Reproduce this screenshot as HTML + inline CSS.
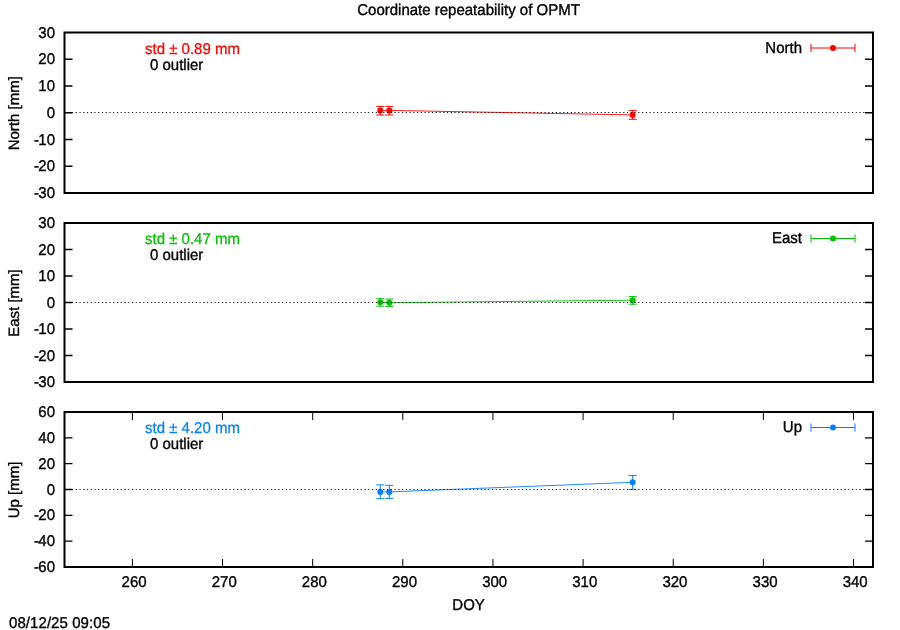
<!DOCTYPE html>
<html><head><meta charset="utf-8"><title>Coordinate repeatability of OPMT</title>
<style>
html,body{margin:0;padding:0;background:#fff;}
body{width:900px;height:630px;overflow:hidden;}
svg{display:block;will-change:transform;}
text{font-family:"Liberation Sans",sans-serif;font-size:15px;text-rendering:geometricPrecision;}
</style></head><body>
<svg width="900" height="630" viewBox="0 0 900 630">
<rect width="900" height="630" fill="#fff"/>
<text transform="translate(468.50 15.00) scale(1 1.04)" text-anchor="middle" fill="#000" stroke="#000" stroke-width="0.35">Coordinate repeatability of OPMT</text>
<g>
<text transform="translate(55.00 37.50) scale(1 1.04)" text-anchor="end" fill="#000" stroke="#000" stroke-width="0.35">30</text>
<text transform="translate(55.00 64.25) scale(1 1.04)" text-anchor="end" fill="#000" stroke="#000" stroke-width="0.35">20</text>
<text transform="translate(55.00 91.00) scale(1 1.04)" text-anchor="end" fill="#000" stroke="#000" stroke-width="0.35">10</text>
<text transform="translate(55.00 117.75) scale(1 1.04)" text-anchor="end" fill="#000" stroke="#000" stroke-width="0.35">0</text>
<text transform="translate(55.00 144.50) scale(1 1.04)" text-anchor="end" fill="#000" stroke="#000" stroke-width="0.35"><tspan letter-spacing="-0.8">-</tspan>10</text>
<text transform="translate(55.00 171.25) scale(1 1.04)" text-anchor="end" fill="#000" stroke="#000" stroke-width="0.35"><tspan letter-spacing="-0.8">-</tspan>20</text>
<text transform="translate(55.00 198.00) scale(1 1.04)" text-anchor="end" fill="#000" stroke="#000" stroke-width="0.35"><tspan letter-spacing="-0.8">-</tspan>30</text>
<path d="M64.5 59.25h8M873.0 59.25h-8M64.5 86.00h8M873.0 86.00h-8M64.5 112.75h8M873.0 112.75h-8M64.5 139.50h8M873.0 139.50h-8M64.5 166.25h8M873.0 166.25h-8" stroke="#000" stroke-width="1.3" fill="none"/>
<path d="M380.28 110.40L389.29 110.40L632.66 114.90" stroke="#ff0000" stroke-width="0.9" fill="none"/>
<path d="M380.28 106.4V115.0M376.28 106.4h8M376.28 115.0h8M389.29 106.4V115.0M385.29 106.4h8M385.29 115.0h8M632.66 110.6V119.3M628.66 110.6h8M628.66 119.3h8" stroke="#ff0000" stroke-width="1" fill="none"/>
<circle cx="380.28" cy="110.40" r="3" fill="#ff0000"/>
<circle cx="389.29" cy="110.40" r="3" fill="#ff0000"/>
<circle cx="632.66" cy="114.90" r="3" fill="#ff0000"/>
<path d="M64.5 112.50H873.0" stroke="#000" stroke-width="1" stroke-dasharray="1.1 2.65" fill="none"/>
<rect x="64.5" y="32.5" width="808.5" height="160.5" fill="none" stroke="#000" stroke-width="2"/>
<text transform="translate(145.00 53.50) scale(1 1.04)" text-anchor="start" fill="#ff0000" stroke="#ff0000" stroke-width="0.25">std ± 0.89 mm</text>
<text transform="translate(150.00 69.50) scale(1 1.04)" text-anchor="start" fill="#000" stroke="#000" stroke-width="0.35">0 outlier</text>
<text transform="translate(802.00 53.00) scale(1 1.04)" text-anchor="end" fill="#000" stroke="#000" stroke-width="0.35">North</text>
<path d="M811 48.0H855M811 44.0v8M855 44.0v8" stroke="#ff0000" stroke-width="1" fill="none"/>
<circle cx="833" cy="48.0" r="3" fill="#ff0000"/>
<text transform="translate(19.00 113.25) rotate(-90)" text-anchor="middle" fill="#000" stroke="#000" stroke-width="0.35">North [mm]</text>
</g>
<g>
<text transform="translate(55.00 228.00) scale(1 1.04)" text-anchor="end" fill="#000" stroke="#000" stroke-width="0.35">30</text>
<text transform="translate(55.00 254.50) scale(1 1.04)" text-anchor="end" fill="#000" stroke="#000" stroke-width="0.35">20</text>
<text transform="translate(55.00 281.00) scale(1 1.04)" text-anchor="end" fill="#000" stroke="#000" stroke-width="0.35">10</text>
<text transform="translate(55.00 307.50) scale(1 1.04)" text-anchor="end" fill="#000" stroke="#000" stroke-width="0.35">0</text>
<text transform="translate(55.00 334.00) scale(1 1.04)" text-anchor="end" fill="#000" stroke="#000" stroke-width="0.35"><tspan letter-spacing="-0.8">-</tspan>10</text>
<text transform="translate(55.00 360.50) scale(1 1.04)" text-anchor="end" fill="#000" stroke="#000" stroke-width="0.35"><tspan letter-spacing="-0.8">-</tspan>20</text>
<text transform="translate(55.00 387.00) scale(1 1.04)" text-anchor="end" fill="#000" stroke="#000" stroke-width="0.35"><tspan letter-spacing="-0.8">-</tspan>30</text>
<path d="M64.5 249.50h8M873.0 249.50h-8M64.5 276.00h8M873.0 276.00h-8M64.5 302.50h8M873.0 302.50h-8M64.5 329.00h8M873.0 329.00h-8M64.5 355.50h8M873.0 355.50h-8" stroke="#000" stroke-width="1.3" fill="none"/>
<path d="M380.28 302.30L389.29 302.70L632.66 300.20" stroke="#00c000" stroke-width="0.9" fill="none"/>
<path d="M380.28 298.7V306.2M376.28 298.7h8M376.28 306.2h8M389.29 299.1V306.4M385.29 299.1h8M385.29 306.4h8M632.66 296.6V304.2M628.66 296.6h8M628.66 304.2h8" stroke="#00c000" stroke-width="1" fill="none"/>
<circle cx="380.28" cy="302.30" r="3" fill="#00c000"/>
<circle cx="389.29" cy="302.70" r="3" fill="#00c000"/>
<circle cx="632.66" cy="300.20" r="3" fill="#00c000"/>
<path d="M64.5 302.50H873.0" stroke="#000" stroke-width="1" stroke-dasharray="1.1 2.65" fill="none"/>
<rect x="64.5" y="223.0" width="808.5" height="159.0" fill="none" stroke="#000" stroke-width="2"/>
<text transform="translate(145.00 244.00) scale(1 1.04)" text-anchor="start" fill="#00c000" stroke="#00c000" stroke-width="0.25">std ± 0.47 mm</text>
<text transform="translate(150.00 260.00) scale(1 1.04)" text-anchor="start" fill="#000" stroke="#000" stroke-width="0.35">0 outlier</text>
<text transform="translate(802.00 243.00) scale(1 1.04)" text-anchor="end" fill="#000" stroke="#000" stroke-width="0.35">East</text>
<path d="M811 238.5H855M811 234.5v8M855 234.5v8" stroke="#00c000" stroke-width="1" fill="none"/>
<circle cx="833" cy="238.5" r="3" fill="#00c000"/>
<text transform="translate(19.00 303.00) rotate(-90)" text-anchor="middle" fill="#000" stroke="#000" stroke-width="0.35">East [mm]</text>
</g>
<g>
<text transform="translate(55.00 417.00) scale(1 1.04)" text-anchor="end" fill="#000" stroke="#000" stroke-width="0.35">60</text>
<text transform="translate(55.00 442.83) scale(1 1.04)" text-anchor="end" fill="#000" stroke="#000" stroke-width="0.35">40</text>
<text transform="translate(55.00 468.67) scale(1 1.04)" text-anchor="end" fill="#000" stroke="#000" stroke-width="0.35">20</text>
<text transform="translate(55.00 494.50) scale(1 1.04)" text-anchor="end" fill="#000" stroke="#000" stroke-width="0.35">0</text>
<text transform="translate(55.00 520.33) scale(1 1.04)" text-anchor="end" fill="#000" stroke="#000" stroke-width="0.35"><tspan letter-spacing="-0.8">-</tspan>20</text>
<text transform="translate(55.00 546.17) scale(1 1.04)" text-anchor="end" fill="#000" stroke="#000" stroke-width="0.35"><tspan letter-spacing="-0.8">-</tspan>40</text>
<text transform="translate(55.00 572.00) scale(1 1.04)" text-anchor="end" fill="#000" stroke="#000" stroke-width="0.35"><tspan letter-spacing="-0.8">-</tspan>60</text>
<path d="M64.5 437.83h8M873.0 437.83h-8M64.5 463.67h8M873.0 463.67h-8M64.5 489.50h8M873.0 489.50h-8M64.5 515.33h8M873.0 515.33h-8M64.5 541.17h8M873.0 541.17h-8" stroke="#000" stroke-width="1.3" fill="none"/>
<path d="M132.40 567.0v-8M132.40 412.0v8M222.54 567.0v-8M222.54 412.0v8M312.68 567.0v-8M312.68 412.0v8M402.81 567.0v-8M402.81 412.0v8M492.95 567.0v-8M492.95 412.0v8M583.09 567.0v-8M583.09 412.0v8M673.23 567.0v-8M673.23 412.0v8M763.36 567.0v-8M763.36 412.0v8M853.50 567.0v-8M853.50 412.0v8" stroke="#000" stroke-width="1" fill="none"/>
<path d="M380.28 491.90L389.29 491.90L632.66 482.30" stroke="#0080ff" stroke-width="0.9" fill="none"/>
<path d="M380.28 484.9V498.7M376.28 484.9h8M376.28 498.7h8M389.29 485.3V498.4M385.29 485.3h8M385.29 498.4h8M632.66 475.6V489.4M628.66 475.6h8M628.66 489.4h8" stroke="#0080ff" stroke-width="1" fill="none"/>
<circle cx="380.28" cy="491.90" r="3" fill="#0080ff"/>
<circle cx="389.29" cy="491.90" r="3" fill="#0080ff"/>
<circle cx="632.66" cy="482.30" r="3" fill="#0080ff"/>
<path d="M64.5 489.50H873.0" stroke="#000" stroke-width="1" stroke-dasharray="1.1 2.65" fill="none"/>
<rect x="64.5" y="412.0" width="808.5" height="155.0" fill="none" stroke="#000" stroke-width="2"/>
<text transform="translate(145.00 433.00) scale(1 1.04)" text-anchor="start" fill="#0080ff" stroke="#0080ff" stroke-width="0.25">std ± 4.20 mm</text>
<text transform="translate(150.00 449.00) scale(1 1.04)" text-anchor="start" fill="#000" stroke="#000" stroke-width="0.35">0 outlier</text>
<text transform="translate(802.00 432.00) scale(1 1.04)" text-anchor="end" fill="#000" stroke="#000" stroke-width="0.35">Up</text>
<path d="M811 427.5H855M811 423.5v8M855 423.5v8" stroke="#0080ff" stroke-width="1" fill="none"/>
<circle cx="833" cy="427.5" r="3" fill="#0080ff"/>
<text transform="translate(19.00 490.00) rotate(-90)" text-anchor="middle" fill="#000" stroke="#000" stroke-width="0.35">Up [mm]</text>
<text transform="translate(134.10 587.00) scale(1 1.04)" text-anchor="middle" fill="#000" stroke="#000" stroke-width="0.35">260</text>
<text transform="translate(224.24 587.00) scale(1 1.04)" text-anchor="middle" fill="#000" stroke="#000" stroke-width="0.35">270</text>
<text transform="translate(314.38 587.00) scale(1 1.04)" text-anchor="middle" fill="#000" stroke="#000" stroke-width="0.35">280</text>
<text transform="translate(404.51 587.00) scale(1 1.04)" text-anchor="middle" fill="#000" stroke="#000" stroke-width="0.35">290</text>
<text transform="translate(494.65 587.00) scale(1 1.04)" text-anchor="middle" fill="#000" stroke="#000" stroke-width="0.35">300</text>
<text transform="translate(584.79 587.00) scale(1 1.04)" text-anchor="middle" fill="#000" stroke="#000" stroke-width="0.35">310</text>
<text transform="translate(674.93 587.00) scale(1 1.04)" text-anchor="middle" fill="#000" stroke="#000" stroke-width="0.35">320</text>
<text transform="translate(765.06 587.00) scale(1 1.04)" text-anchor="middle" fill="#000" stroke="#000" stroke-width="0.35">330</text>
<text transform="translate(855.20 587.00) scale(1 1.04)" text-anchor="middle" fill="#000" stroke="#000" stroke-width="0.35">340</text>
</g>
<text transform="translate(468.60 610.00) scale(1 1.04)" text-anchor="middle" fill="#000" stroke="#000" stroke-width="0.35">DOY</text>
<text transform="translate(9.00 628.00) scale(1 1.04)" text-anchor="start" fill="#000" stroke="#000" stroke-width="0.35"><tspan letter-spacing="0.07">08/12/25 09:05</tspan></text>
</svg></body></html>
